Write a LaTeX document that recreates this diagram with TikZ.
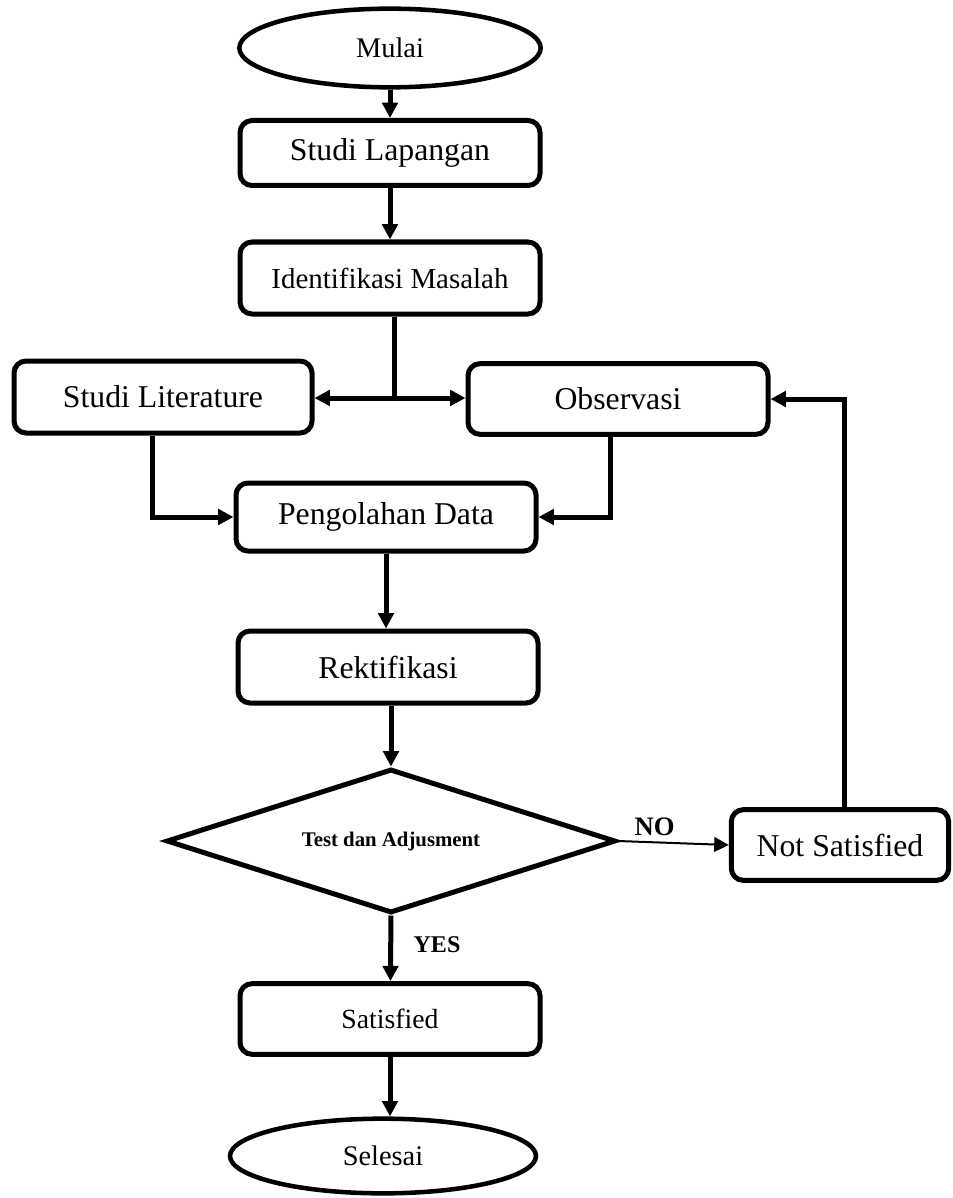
\documentclass[tikz,border=0pt]{standalone}
\usepackage{fontspec}
\setmainfont{Liberation Serif}
\usetikzlibrary{shapes.geometric,arrows.meta}

\begin{document}
\begin{tikzpicture}[x=0.75pt,y=-0.75pt,
  proses/.style={draw, line width=3.75pt, rounded corners=9pt, minimum width=225pt, minimum height=53pt, inner sep=0pt, font=\fontsize{23.8}{28}\selectfont},
  terminal/.style={draw, ellipse, line width=3.4pt, minimum width=226pt, minimum height=59pt, inner sep=0pt, font=\fontsize{21.3}{26}\selectfont},
  keputusan/.style={draw, diamond, aspect=3.1, line width=3.75pt, minimum width=337pt, minimum height=108pt, inner sep=0pt, font=\bfseries\fontsize{15.6}{18}\selectfont},
  panah/.style={line width=3.75pt, -{Triangle[length=11.5pt,width=11.5pt]}},
  garis/.style={line width=3.75pt}]
  \useasboundingbox (0,0) rectangle (952,1198);

  \node[terminal] (mulai) at (390,48) {Mulai};
  \node[proses, minimum height=48.75pt] (lapangan) at (390,153) {Studi Lapangan};
  \node[proses, minimum height=54pt, font=\fontsize{21.7}{26}\selectfont] (identifikasi) at (390,278) {Identifikasi Masalah};
  \node[proses, minimum width=223.5pt, minimum height=54pt] (literatur) at (163,397) {Studi Literature};
  \node[proses] (observasi) at (618,399) {Observasi};
  \node[proses, minimum height=51pt] (pengolahan) at (386,517) {Pengolahan Data};
  \node[proses, minimum height=54pt] (rektifikasi) at (388,667) {Rektifikasi};
  \node[keputusan] (test) at (391,841) {Test dan Adjusment};
  \node[proses, minimum width=163pt] (notsat) at (840,845) {Not Satisfied};
  \node[proses, font=\fontsize{20.8}{25}\selectfont] (satisfied) at (390,1019) {Satisfied};
  \node[terminal, minimum width=229.5pt, minimum height=56pt] (selesai) at (383,1156) {Selesai};
  \coordinate (cabang) at (394,398);

  \draw[panah] (mulai) -- (lapangan);
  \draw[panah] (lapangan) -- (identifikasi);
  \draw[garis] (identifikasi.south -| cabang) -- (cabang);
  \draw[panah] (cabang) -- (cabang -| literatur.east);
  \draw[panah] (cabang) -- (cabang -| observasi.west);
  \draw[panah] ([xshift=-8pt]literatur.south) |- (pengolahan);
  \draw[panah] ([xshift=-6pt]observasi.south) |- (pengolahan);
  \draw[panah] (pengolahan.south) -- (pengolahan.south |- rektifikasi.north);
  \draw[panah] (rektifikasi.south -| test.north) -- (test.north);
  \draw[line width=1.5pt, -{Triangle[length=11pt,width=11pt]}] (test.east) -- (notsat.west)
    node[pos=0.33, above=1pt, font=\bfseries\fontsize{20}{24}\selectfont] {NO};
  \draw[panah] ([xshift=3pt]notsat.north) |- (observasi.east);
  \draw[panah] (test.south) -- (satisfied)
    node[pos=0.45, right=12pt, font=\bfseries\fontsize{18}{22}\selectfont] {YES};
  \draw[panah] (satisfied.south) -- (satisfied.south |- selesai.north);
\end{tikzpicture}
\end{document}
